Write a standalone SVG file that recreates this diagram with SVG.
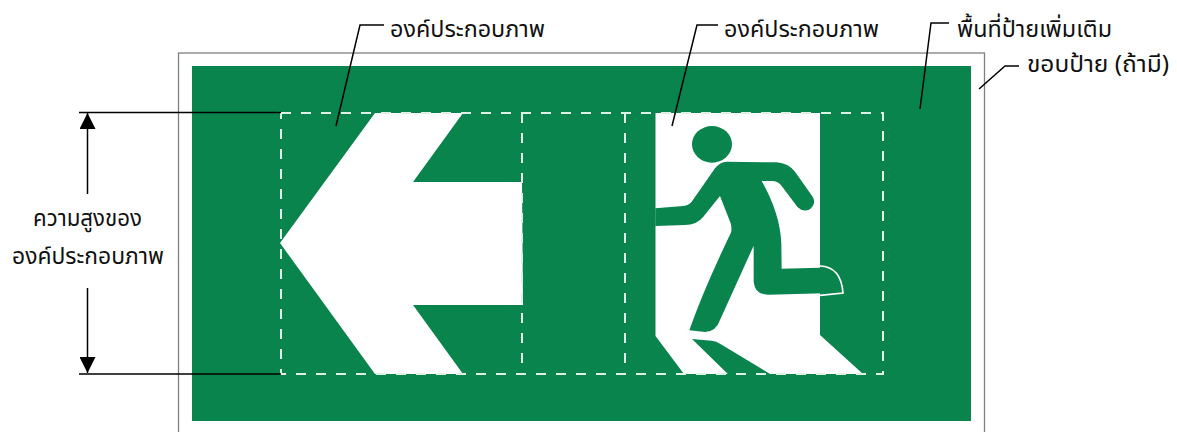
<svg xmlns="http://www.w3.org/2000/svg" width="1177" height="432" viewBox="0 0 1177 432">
<style>
text{font-family:"Noto Sans","Noto Sans Thai","Loma","DejaVu Sans","Liberation Sans",sans-serif;font-size:23.400px;fill:#111}
.c{fill:none;stroke:#000;stroke-width:1.5}
.d{fill:none;stroke:#dff0e7;stroke-width:2;stroke-dasharray:10 10}
.g{fill:#0a844d}
</style>
<defs><marker id="a" viewBox="0 0 16 16" refX="16" refY="8" markerWidth="16" markerHeight="16" markerUnits="userSpaceOnUse" orient="auto"><path d="M0 0L16 8L0 16Z" fill="#000"/></marker></defs>
<g id="sign">
<rect x="178.500" y="53" width="806" height="385" fill="#fff" stroke="#808080" stroke-width="1.300"/>
<rect class="g" x="192" y="66" width="779" height="355"/>
</g>
<g id="arrow"><path fill="#fff" d="M280 243L375 113H463L413 182H522L523 305H413L463 374H375Z"/></g>
<g id="runner">
<path fill="#fff" d="M655.500 113H820V335L863 374H684L655.500 336Z"/>
<g transform="translate(640 100) scale(.33333)">
<ellipse class="g" cx="216" cy="133" rx="60" ry="55"/>
<path class="g" d="M46 325L130 318Q145 316 155 305L225 205Q240 186 260 185L410 187Q445 190 465 215L518 290Q530 310 510 328Q490 338 473 322L425 258Q415 243 395 243L365 243Q420 340 424 430L425 506L540 503Q600 505 608 578L385 584Q345 585 341 545L341 437L240 660Q228 695 195 696L148 691Q190 570 272 400Q277 390 272 370L240 288L190 350Q170 375 135 375L46 378Z"/>
<path fill="none" stroke="#fff" stroke-width="5" d="M540 498Q603 500 609 579L540 586"/>
<path class="g" d="M156 717L215 722Q230 724 240 731L394 824H266Z"/>
</g>
</g>
<g id="guides">
<path class="d" d="M281 113H883V374H281Z"/>
<path class="d" d="M522 113V374M625 113V374"/>
</g>
<g id="connectors">
<path class="c" d="M79 112.500H281M79 374H281"/>
<path class="c" d="M87.500 194V113" marker-end="url(#a)"/>
<path class="c" d="M87.500 288V373" marker-end="url(#a)"/>
<path class="c" d="M336 126L360 25H384"/>
<path class="c" d="M672 126L697 25H718"/>
<path class="c" d="M920 109L931 23H949"/>
<path class="c" d="M979 89L1005 66H1019"/>
</g>
<g id="labels">
<text x="390" y="37" textLength="155" lengthAdjust="spacingAndGlyphs">องค์ประกอบภาพ</text>
<text x="724" y="37" textLength="155" lengthAdjust="spacingAndGlyphs">องค์ประกอบภาพ</text>
<text x="957" y="37" textLength="155" lengthAdjust="spacingAndGlyphs">พื้นที่ป้ายเพิ่มเติม</text>
<text x="1027" y="72" textLength="142" lengthAdjust="spacingAndGlyphs">ขอบป้าย (ถ้ามี)</text>
<text x="33" y="226" textLength="109" lengthAdjust="spacingAndGlyphs">ความสูงของ</text>
<text x="12" y="264" textLength="152" lengthAdjust="spacingAndGlyphs">องค์ประกอบภาพ</text>
</g>
</svg>
